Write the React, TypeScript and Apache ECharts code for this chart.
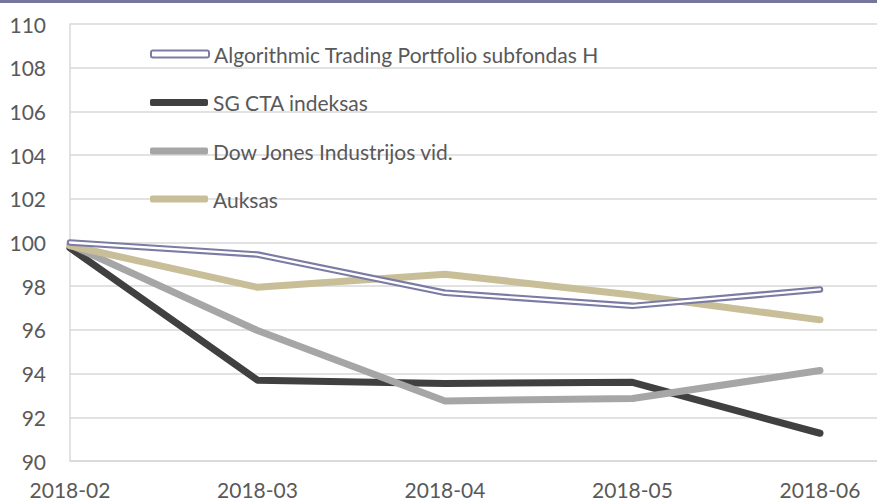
import React, { useEffect, useRef } from "react";
import * as echarts from "echarts";

const categories = ["2018-02", "2018-03", "2018-04", "2018-05", "2018-06"];
const algoName = "Algorithmic Trading Portfolio subfondas H";
const sgName = "SG CTA indeksas";
const dowName = "Dow Jones Industrijos vid.";
const goldName = "Auksas";
const algoValues = [100.0, 99.45, 97.7, 97.1, 97.85];
const sgValues = [99.75, 93.7, 93.55, 93.6, 91.27];
const dowValues = [99.9, 95.97, 92.75, 92.86, 94.14];
const goldValues = [99.85, 97.95, 98.55, 97.6, 96.46];
const yTicks = { min: 90, max: 110, interval: 2 };

const FONT = "Lato";
const TEXT = "#595959";
const PURPLE = "#7b7ba5";
const DARK = "#404040";
const GRAY = "#a6a6a6";
const TAN = "#c8bf99";

const pts = (vals: number[]) => vals.map((v, i) => [i, v]);

export default function App() {
  const ref = useRef<HTMLDivElement>(null);
  useEffect(() => {
    if (!ref.current) return;
    const chart = echarts.init(ref.current, undefined, { renderer: "svg" });
    const lineSeries = (name: string, vals: number[], color: string, width: number, z: number) => ({
      type: "line",
      name,
      data: pts(vals),
      symbol: "none",
      z,
      lineStyle: { color, width, cap: "round", join: "round" },
      itemStyle: { color },
    });
    const legendItem = (name: string, top: number, itemStyle: any) => ({
      left: 150,
      top,
      padding: 0,
      itemWidth: 58,
      itemHeight: 7,
      selectedMode: false,
      textStyle: { color: TEXT, fontFamily: FONT, fontSize: 21, lineHeight: 24 },
      data: [{ name, icon: "roundRect", itemStyle }],
    });
    chart.setOption({
      animation: false,
      textStyle: { fontFamily: FONT },
      grid: { left: 70, right: 0, top: 24, bottom: 41, containLabel: false },
      xAxis: {
        type: "value",
        min: 0,
        max: (877 - 70) / 187.5,
        interval: 1,
        axisLine: { show: true, lineStyle: { color: "#d9d9d9", width: 1.5 } },
        axisTick: { show: false },
        splitLine: { show: false },
        axisLabel: {
          color: TEXT,
          fontFamily: FONT,
          fontSize: 21,
          margin: 18,
          showMaxLabel: false,
          formatter: (v: number) => (Number.isInteger(v) && categories[v] ? categories[v] : ""),
        },
      },
      yAxis: {
        type: "value",
        min: yTicks.min,
        max: yTicks.max,
        interval: yTicks.interval,
        axisLine: { show: true, lineStyle: { color: "#d9d9d9", width: 1.5 } },
        axisTick: { show: false },
        splitLine: { show: true, lineStyle: { color: "#d9d9d9", width: 1.5 } },
        axisLabel: { color: TEXT, fontFamily: FONT, fontSize: 21, margin: 24 },
      },
      legend: [
        legendItem(algoName, 42, { color: "#ffffff", borderColor: PURPLE, borderWidth: 2 }),
        legendItem(sgName, 90.5, { color: DARK }),
        legendItem(dowName, 139, { color: GRAY }),
        legendItem(goldName, 187, { color: TAN }),
      ],
      series: [
        lineSeries(sgName, sgValues, DARK, 7, 2),
        lineSeries(dowName, dowValues, GRAY, 7, 3),
        lineSeries(goldName, goldValues, TAN, 7, 4),
        lineSeries(algoName, algoValues, PURPLE, 6.5, 5),
        {
          type: "line",
          name: "algo-inner",
          data: pts(algoValues),
          symbol: "none",
          z: 6,
          silent: true,
          lineStyle: { color: "#ffffff", width: 2.3, cap: "round", join: "round" },
        },
      ],
      graphic: [
        { type: "rect", left: 0, top: 0, shape: { x: 0, y: 0, width: 877, height: 3 }, style: { fill: "#76769a" } },
      ],
    });
    return () => chart.dispose();
  }, []);
  return (
    <div
      ref={ref}
      style={{ position: "fixed", left: 0, top: 0, width: 877, height: 502, background: "#ffffff" }}
    />
  );
}
